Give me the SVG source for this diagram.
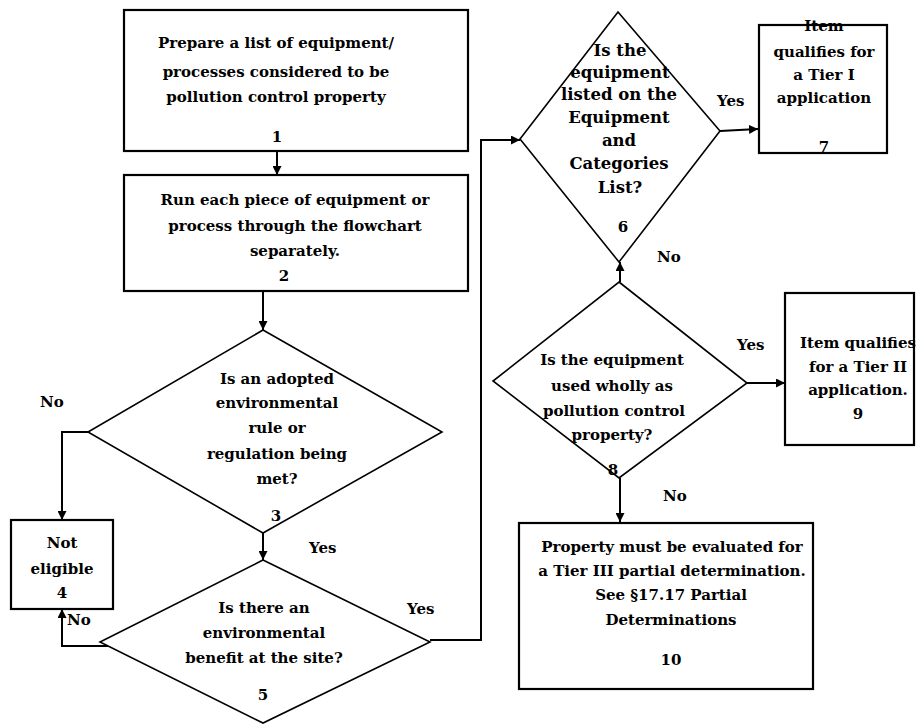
<svg xmlns="http://www.w3.org/2000/svg" width="916" height="724" viewBox="0 0 916 724">
<style>
.bg{fill:#fff}
.box{fill:#fff;stroke:#000;stroke-width:2.2}
.dia{fill:#fff;stroke:#000;stroke-width:1.6}
.t{font-family:"DejaVu Serif","Liberation Serif",serif;font-weight:bold;font-size:15px;fill:#000;text-anchor:middle;dominant-baseline:central}
.w{font-size:16.5px}
.lbl{font-family:"DejaVu Serif","Liberation Serif",serif;font-weight:bold;font-size:15px;fill:#000}
.c{fill:none;stroke:#000;stroke-width:2}
</style>
<defs>
<marker id="ah" viewBox="0 0 10 10" refX="10" refY="5" markerWidth="4.5" markerHeight="4.5" orient="auto" markerUnits="strokeWidth">
<path d="M0,0 L10,5 L0,10 z" fill="#000"/>
</marker>
</defs>
<rect class="bg" x="0" y="0" width="916" height="724"/>

<g id="connectors">
<line class="c" x1="277" y1="151" x2="277" y2="175" marker-end="url(#ah)"/>
<line class="c" x1="263" y1="291" x2="263" y2="330" marker-end="url(#ah)"/>
<polyline class="c" points="90,432 62,432 62,520" marker-end="url(#ah)"/>
<line class="c" x1="263" y1="533" x2="263" y2="560" marker-end="url(#ah)"/>
<polyline class="c" points="112,646 62,646 62,609" marker-end="url(#ah)"/>
<polyline class="c" points="430,640 481,640 481,140 520,140" marker-end="url(#ah)"/>
<line class="c" x1="620" y1="282" x2="620" y2="262" marker-end="url(#ah)"/>
<line class="c" x1="720" y1="131" x2="758" y2="129" marker-end="url(#ah)"/>
<line class="c" x1="747" y1="383" x2="785" y2="383" marker-end="url(#ah)"/>
<line class="c" x1="620" y1="478" x2="620" y2="522" marker-end="url(#ah)"/>
<text class="lbl" x="40" y="407">No</text>
<text class="lbl" x="309" y="553">Yes</text>
<text class="lbl" x="67" y="625">No</text>
<text class="lbl" x="407" y="614">Yes</text>
<text class="lbl" x="717" y="106">Yes</text>
<text class="lbl" x="657" y="262">No</text>
<text class="lbl" x="737" y="350">Yes</text>
<text class="lbl" x="663" y="501">No</text>
</g>

<g id="n1">
<rect class="box" x="124" y="10" width="344" height="141"/>
<text class="t" x="276" y="43">Prepare a list of equipment/</text>
<text class="t" x="276" y="72">processes considered to be</text>
<text class="t" x="276" y="97">pollution control property</text>
<text class="t" x="277" y="137">1</text>
</g>

<g id="n2">
<rect class="box" x="124" y="175" width="344" height="116"/>
<text class="t" x="295" y="200">Run each piece of equipment or</text>
<text class="t" x="295" y="226">process through the flowchart</text>
<text class="t" x="295" y="251">separately.</text>
<text class="t" x="284" y="276">2</text>
</g>

<g id="n3">
<polygon class="dia" points="263,330 442,432 263,533 88,432"/>
<text class="t" x="277" y="379">Is an adopted</text>
<text class="t" x="277" y="403">environmental</text>
<text class="t" x="277" y="428">rule or</text>
<text class="t" x="277" y="454">regulation being</text>
<text class="t" x="277" y="479">met?</text>
<text class="t" x="276" y="516">3</text>
</g>

<g id="n4">
<rect class="box" x="11" y="520" width="102" height="89"/>
<text class="t" x="62" y="543">Not</text>
<text class="t" x="62" y="569">eligible</text>
<text class="t" x="62" y="593">4</text>
</g>

<g id="n5">
<polygon class="dia" points="263,560 430,642 263,723 100,642"/>
<text class="t" x="264" y="608">Is there an</text>
<text class="t" x="264" y="633">environmental</text>
<text class="t" x="264" y="658">benefit at the site?</text>
<text class="t" x="263" y="695">5</text>
</g>

<g id="n6">
<polygon class="dia" points="618,12 720,131 619,262 520,139"/>
<text class="t w" x="620" y="50">Is the</text>
<text class="t w" x="620" y="72">equipment</text>
<text class="t w" x="619" y="94">listed on the</text>
<text class="t w" x="619" y="117">Equipment</text>
<text class="t w" x="619" y="140">and</text>
<text class="t w" x="619" y="163">Categories</text>
<text class="t w" x="620" y="187">List?</text>
<text class="t" x="623" y="227">6</text>
</g>

<g id="n7">
<rect class="box" x="759" y="25" width="128" height="128"/>
<text class="t" x="824" y="26">Item</text>
<text class="t" x="824" y="52">qualifies for</text>
<text class="t" x="824" y="75">a Tier I</text>
<text class="t" x="824" y="98">application</text>
<text class="t" x="824" y="147">7</text>
</g>

<g id="n8">
<polygon class="dia" points="619,282 747,383 619,478 493,381"/>
<text class="t" x="612" y="360">Is the equipment</text>
<text class="t" x="612" y="386">used wholly as</text>
<text class="t" x="614" y="411">pollution control</text>
<text class="t" x="612" y="435">property?</text>
<text class="t" x="613" y="470">8</text>
</g>

<g id="n9">
<rect class="box" x="785" y="293" width="129" height="152"/>
<text class="t" x="858" y="343">Item qualifies</text>
<text class="t" x="858" y="367">for a Tier II</text>
<text class="t" x="858" y="390">application.</text>
<text class="t" x="858" y="414">9</text>
</g>

<g id="n10">
<rect class="box" x="519" y="523" width="294" height="166"/>
<text class="t" x="672" y="547">Property must be evaluated for</text>
<text class="t" x="672" y="571">a Tier III partial determination.</text>
<text class="t" x="671" y="595">See §17.17 Partial</text>
<text class="t" x="671" y="620">Determinations</text>
<text class="t" x="671" y="660">10</text>
</g>
</svg>
